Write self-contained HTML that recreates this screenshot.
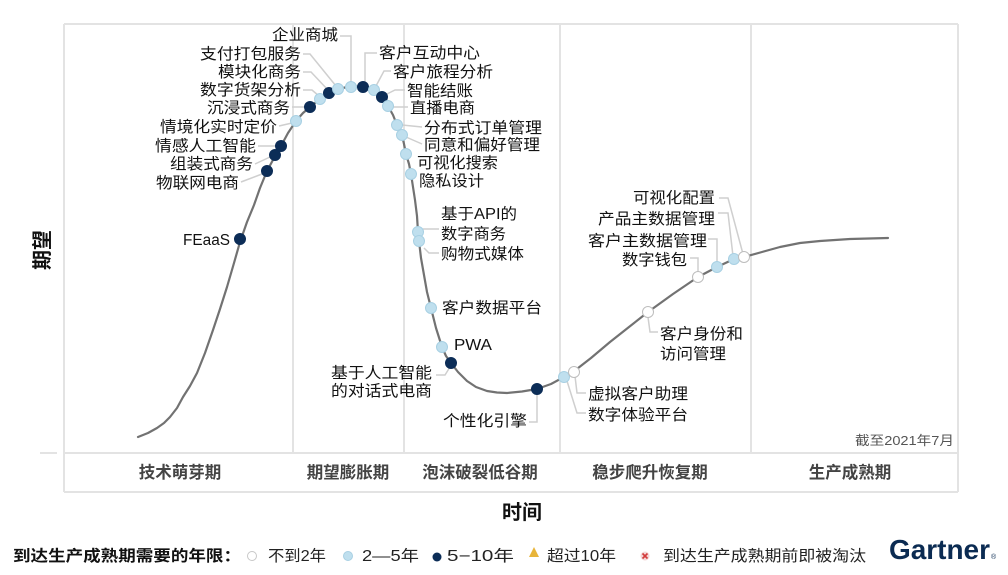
<!DOCTYPE html>
<html><head><meta charset="utf-8"><style>
html,body{margin:0;padding:0;background:#fff;}
svg{display:block;}
text{font-family:"Liberation Sans","Noto Sans CJK SC",sans-serif;}
</style></head><body>
<svg width="1008" height="575" viewBox="0 0 1008 575" xmlns="http://www.w3.org/2000/svg">
<rect width="1008" height="575" fill="#fff"/>
<!-- chart frame -->
<g stroke="#e3e3e3" stroke-width="2" fill="none">
<line x1="64" y1="24" x2="958" y2="24"/>
<line x1="64" y1="24" x2="64" y2="492"/>
<line x1="958" y1="24" x2="958" y2="492"/>
<line x1="64" y1="492" x2="958" y2="492"/>
<line x1="64" y1="453" x2="958" y2="453"/>
<line x1="293" y1="24" x2="293" y2="453"/>
<line x1="404" y1="24" x2="404" y2="453"/>
<line x1="560" y1="24" x2="560" y2="453"/>
<line x1="751" y1="24" x2="751" y2="453"/>
<line x1="40" y1="453" x2="57" y2="453"/>
</g>
<!-- leaders -->
<g stroke="#cfcfcf" stroke-width="1.5" fill="none">
<polyline points="340,36 351,36 351,84"/>
<polyline points="303,54 310,54 336,86"/>
<polyline points="303,72 311,72 328,90"/>
<polyline points="303,90 312,90 319,96"/>
<polyline points="292,107 306,107"/>
<polyline points="279,126 292,123"/>
<polyline points="258,146 277,146"/>
<polyline points="255,164 270,157"/>
<polyline points="241,182 262,174"/>
<polyline points="377,53 365,53 365,83"/>
<polyline points="391,71 384,71 376,86"/>
<polyline points="405,90 395,90 385,95"/>
<polyline points="408,107 392,107"/>
<polyline points="422,127 402,125"/>
<polyline points="422,144 406,137"/>
<polyline points="423,229 439,229"/>
<polyline points="424,248 429,253 439,253"/>
<polyline points="436,375 445,375 450,367"/>
<polyline points="529,422 537,422 537,394"/>
<polyline points="586,393 577,393 575,376"/>
<polyline points="586,413 577,413 567,381"/>
<polyline points="648,317 650,332 658,332"/>
<polyline points="690,258 698,258 698,274"/>
<polyline points="708,239 717,239 717,264"/>
<polyline points="718,213 728,213 733,256"/>
<polyline points="719,198 728,198 743,254"/>
</g>
<!-- curve -->
<polyline fill="none" stroke="#727272" stroke-width="2.2" stroke-linejoin="round" stroke-linecap="round" points="138,437 148,433 157,428 164,423 170,417 177,408 183,397 190,386 197,373 205,353 213,330 220,309 227,287 234,263 240,242 247,222 254,205 260,188 267,171 274,158 281,146 288,133 296,121 303,113 310,107 320,99 329,93 338,89 345,87.5 351,87 357,86.5 363,87 369,88 374,90 378,93 382,97 385,101 388,106 393,115 397,125 400,130 402,135 404,144 406,154 409,164 411,174 413,187 415,200 417,216 418,232 419,241 421,258 424,275 427,292 431,308 436,328 442,347 446,356 451,363 458,372 467,381 476,387 487,391 497,392.5 507,393 522,391.5 537,389 551,384 564,377 573,372 591,358 610,342 629,327 648,312 673,294 698,277 717,267 734,259 744,257 762,252 780,247 800,243 820,241 850,239 888,238"/>
<!-- dots -->
<g stroke-width="1">
<circle cx="240" cy="239" r="5.5" fill="#0c2d57" stroke="#0c2d57"/>
<circle cx="267" cy="171" r="5.5" fill="#0c2d57" stroke="#0c2d57"/>
<circle cx="275" cy="155" r="5.5" fill="#0c2d57" stroke="#0c2d57"/>
<circle cx="281" cy="146" r="5.5" fill="#0c2d57" stroke="#0c2d57"/>
<circle cx="296" cy="121" r="5.5" fill="#bfdfee" stroke="#a8d0e3"/>
<circle cx="310" cy="107" r="5.5" fill="#0c2d57" stroke="#0c2d57"/>
<circle cx="320" cy="99" r="5.5" fill="#bfdfee" stroke="#a8d0e3"/>
<circle cx="329" cy="93" r="5.5" fill="#0c2d57" stroke="#0c2d57"/>
<circle cx="338" cy="89" r="5.5" fill="#bfdfee" stroke="#a8d0e3"/>
<circle cx="351" cy="87" r="5.5" fill="#bfdfee" stroke="#a8d0e3"/>
<circle cx="363" cy="87" r="5.5" fill="#0c2d57" stroke="#0c2d57"/>
<circle cx="374" cy="90" r="5.5" fill="#bfdfee" stroke="#a8d0e3"/>
<circle cx="382" cy="97" r="5.5" fill="#0c2d57" stroke="#0c2d57"/>
<circle cx="388" cy="106" r="5.5" fill="#bfdfee" stroke="#a8d0e3"/>
<circle cx="397" cy="125" r="5.5" fill="#bfdfee" stroke="#a8d0e3"/>
<circle cx="402" cy="135" r="5.5" fill="#bfdfee" stroke="#a8d0e3"/>
<circle cx="406" cy="154" r="5.5" fill="#bfdfee" stroke="#a8d0e3"/>
<circle cx="411" cy="174" r="5.5" fill="#bfdfee" stroke="#a8d0e3"/>
<circle cx="418" cy="232" r="5.5" fill="#bfdfee" stroke="#a8d0e3"/>
<circle cx="419" cy="241" r="5.5" fill="#bfdfee" stroke="#a8d0e3"/>
<circle cx="431" cy="308" r="5.5" fill="#bfdfee" stroke="#a8d0e3"/>
<circle cx="442" cy="347" r="5.5" fill="#bfdfee" stroke="#a8d0e3"/>
<circle cx="451" cy="363" r="5.5" fill="#0c2d57" stroke="#0c2d57"/>
<circle cx="537" cy="389" r="5.5" fill="#0c2d57" stroke="#0c2d57"/>
<circle cx="564" cy="377" r="5.5" fill="#bfdfee" stroke="#a8d0e3"/>
<circle cx="574" cy="372" r="5.5" fill="#fff" stroke="#bdbdbd"/>
<circle cx="648" cy="312" r="5.5" fill="#fff" stroke="#bdbdbd"/>
<circle cx="698" cy="277" r="5.5" fill="#fff" stroke="#bdbdbd"/>
<circle cx="717" cy="267" r="5.5" fill="#bfdfee" stroke="#a8d0e3"/>
<circle cx="734" cy="259" r="5.5" fill="#bfdfee" stroke="#a8d0e3"/>
<circle cx="744" cy="257" r="5.5" fill="#fff" stroke="#bdbdbd"/>
</g>
<!-- labels -->
<g font-size="15.5" fill="#111">
<text x="272" y="40" textLength="66" lengthAdjust="spacingAndGlyphs">企业商城</text>
<text x="200" y="59" textLength="101" lengthAdjust="spacingAndGlyphs">支付打包服务</text>
<text x="218" y="77" textLength="83" lengthAdjust="spacingAndGlyphs">模块化商务</text>
<text x="200" y="95" textLength="101" lengthAdjust="spacingAndGlyphs">数字货架分析</text>
<text x="207" y="113" textLength="83" lengthAdjust="spacingAndGlyphs">沉浸式商务</text>
<text x="160" y="132" textLength="117" lengthAdjust="spacingAndGlyphs">情境化实时定价</text>
<text x="155" y="151" textLength="101" lengthAdjust="spacingAndGlyphs">情感人工智能</text>
<text x="170" y="169" textLength="83" lengthAdjust="spacingAndGlyphs">组装式商务</text>
<text x="156" y="188" textLength="83" lengthAdjust="spacingAndGlyphs">物联网电商</text>
<text x="183" y="245" textLength="47" lengthAdjust="spacingAndGlyphs">FEaaS</text>
<text x="379" y="58" textLength="101" lengthAdjust="spacingAndGlyphs">客户互动中心</text>
<text x="393" y="77" textLength="100" lengthAdjust="spacingAndGlyphs">客户旅程分析</text>
<text x="407" y="96" textLength="66" lengthAdjust="spacingAndGlyphs">智能结账</text>
<text x="410" y="113" textLength="65" lengthAdjust="spacingAndGlyphs">直播电商</text>
<text x="424" y="133" textLength="118" lengthAdjust="spacingAndGlyphs">分布式订单管理</text>
<text x="424" y="150" textLength="116" lengthAdjust="spacingAndGlyphs">同意和偏好管理</text>
<text x="417" y="168" textLength="81" lengthAdjust="spacingAndGlyphs">可视化搜索</text>
<text x="419" y="186" textLength="65" lengthAdjust="spacingAndGlyphs">隐私设计</text>
<text x="441" y="219" textLength="76" lengthAdjust="spacingAndGlyphs">基于API的</text>
<text x="441" y="239" textLength="65" lengthAdjust="spacingAndGlyphs">数字商务</text>
<text x="441" y="259" textLength="83" lengthAdjust="spacingAndGlyphs">购物式媒体</text>
<text x="442" y="313" textLength="100" lengthAdjust="spacingAndGlyphs">客户数据平台</text>
<text x="454" y="350" textLength="38" lengthAdjust="spacingAndGlyphs">PWA</text>
<text x="331" y="378" textLength="101" lengthAdjust="spacingAndGlyphs">基于人工智能</text>
<text x="331" y="396" textLength="101" lengthAdjust="spacingAndGlyphs">的对话式电商</text>
<text x="443" y="426" textLength="84" lengthAdjust="spacingAndGlyphs">个性化引擎</text>
<text x="633" y="203" textLength="82" lengthAdjust="spacingAndGlyphs">可视化配置</text>
<text x="598" y="224" textLength="117" lengthAdjust="spacingAndGlyphs">产品主数据管理</text>
<text x="588" y="246" textLength="119" lengthAdjust="spacingAndGlyphs">客户主数据管理</text>
<text x="622" y="265" textLength="65" lengthAdjust="spacingAndGlyphs">数字钱包</text>
<text x="660" y="339" textLength="83" lengthAdjust="spacingAndGlyphs">客户身份和</text>
<text x="660" y="359" textLength="66" lengthAdjust="spacingAndGlyphs">访问管理</text>
<text x="588" y="399" textLength="100" lengthAdjust="spacingAndGlyphs">虚拟客户助理</text>
<text x="588" y="420" textLength="100" lengthAdjust="spacingAndGlyphs">数字体验平台</text>
</g>
<text x="855" y="445" font-size="13" fill="#555" textLength="99" lengthAdjust="spacingAndGlyphs">截至2021年7月</text>
<!-- phase labels -->
<g font-size="16.5" fill="#444" font-weight="bold" text-anchor="middle">
<text x="180" y="478">技术萌芽期</text>
<text x="348" y="478">期望膨胀期</text>
<text x="480" y="478">泡沫破裂低谷期</text>
<text x="650" y="478">稳步爬升恢复期</text>
<text x="850" y="478">生产成熟期</text>
</g>
<!-- axis titles -->
<text x="522" y="519" font-size="20" font-weight="bold" fill="#111" text-anchor="middle">时间</text>
<text transform="translate(49,250) rotate(-90)" font-size="20" font-weight="bold" fill="#111" text-anchor="middle">期望</text>
<!-- legend -->
<text x="13" y="561" font-size="15.5" font-weight="bold" fill="#111" textLength="228" lengthAdjust="spacingAndGlyphs">到达生产成熟期需要的年限：</text>
<circle cx="252" cy="556" r="4.5" fill="#fff" stroke="#c8c8c8"/>
<text x="268" y="561" font-size="15.5" fill="#222" textLength="58" lengthAdjust="spacingAndGlyphs">不到2年</text>
<circle cx="348" cy="556" r="4.5" fill="#bfdfee" stroke="#a8d0e3"/>
<text x="362" y="561" font-size="15.5" fill="#222" textLength="57" lengthAdjust="spacingAndGlyphs">2—5年</text>
<circle cx="437" cy="557" r="4.5" fill="#0c2d57"/>
<text x="447" y="561" font-size="15.5" fill="#222" textLength="67" lengthAdjust="spacingAndGlyphs">5−10年</text>
<polygon points="534,547 539,557 529,557" fill="#e8b53a"/>
<text x="547" y="561" font-size="15.5" fill="#222" textLength="69" lengthAdjust="spacingAndGlyphs">超过10年</text>
<circle cx="645" cy="556" r="4.5" fill="#f4d6d6"/>
<path d="M642.5,553.5 L647.5,558.5 M647.5,553.5 L642.5,558.5" stroke="#d23b3b" stroke-width="1.6"/>
<text x="663" y="561" font-size="15.5" fill="#222" textLength="203" lengthAdjust="spacingAndGlyphs">到达生产成熟期前即被淘汰</text>
<text x="889" y="559" font-size="28" font-weight="bold" fill="#0b2b52" textLength="101" lengthAdjust="spacingAndGlyphs">Gartner</text>
<text x="991" y="559" font-size="7" fill="#0b2b52">®</text>
</svg>
</body></html>
